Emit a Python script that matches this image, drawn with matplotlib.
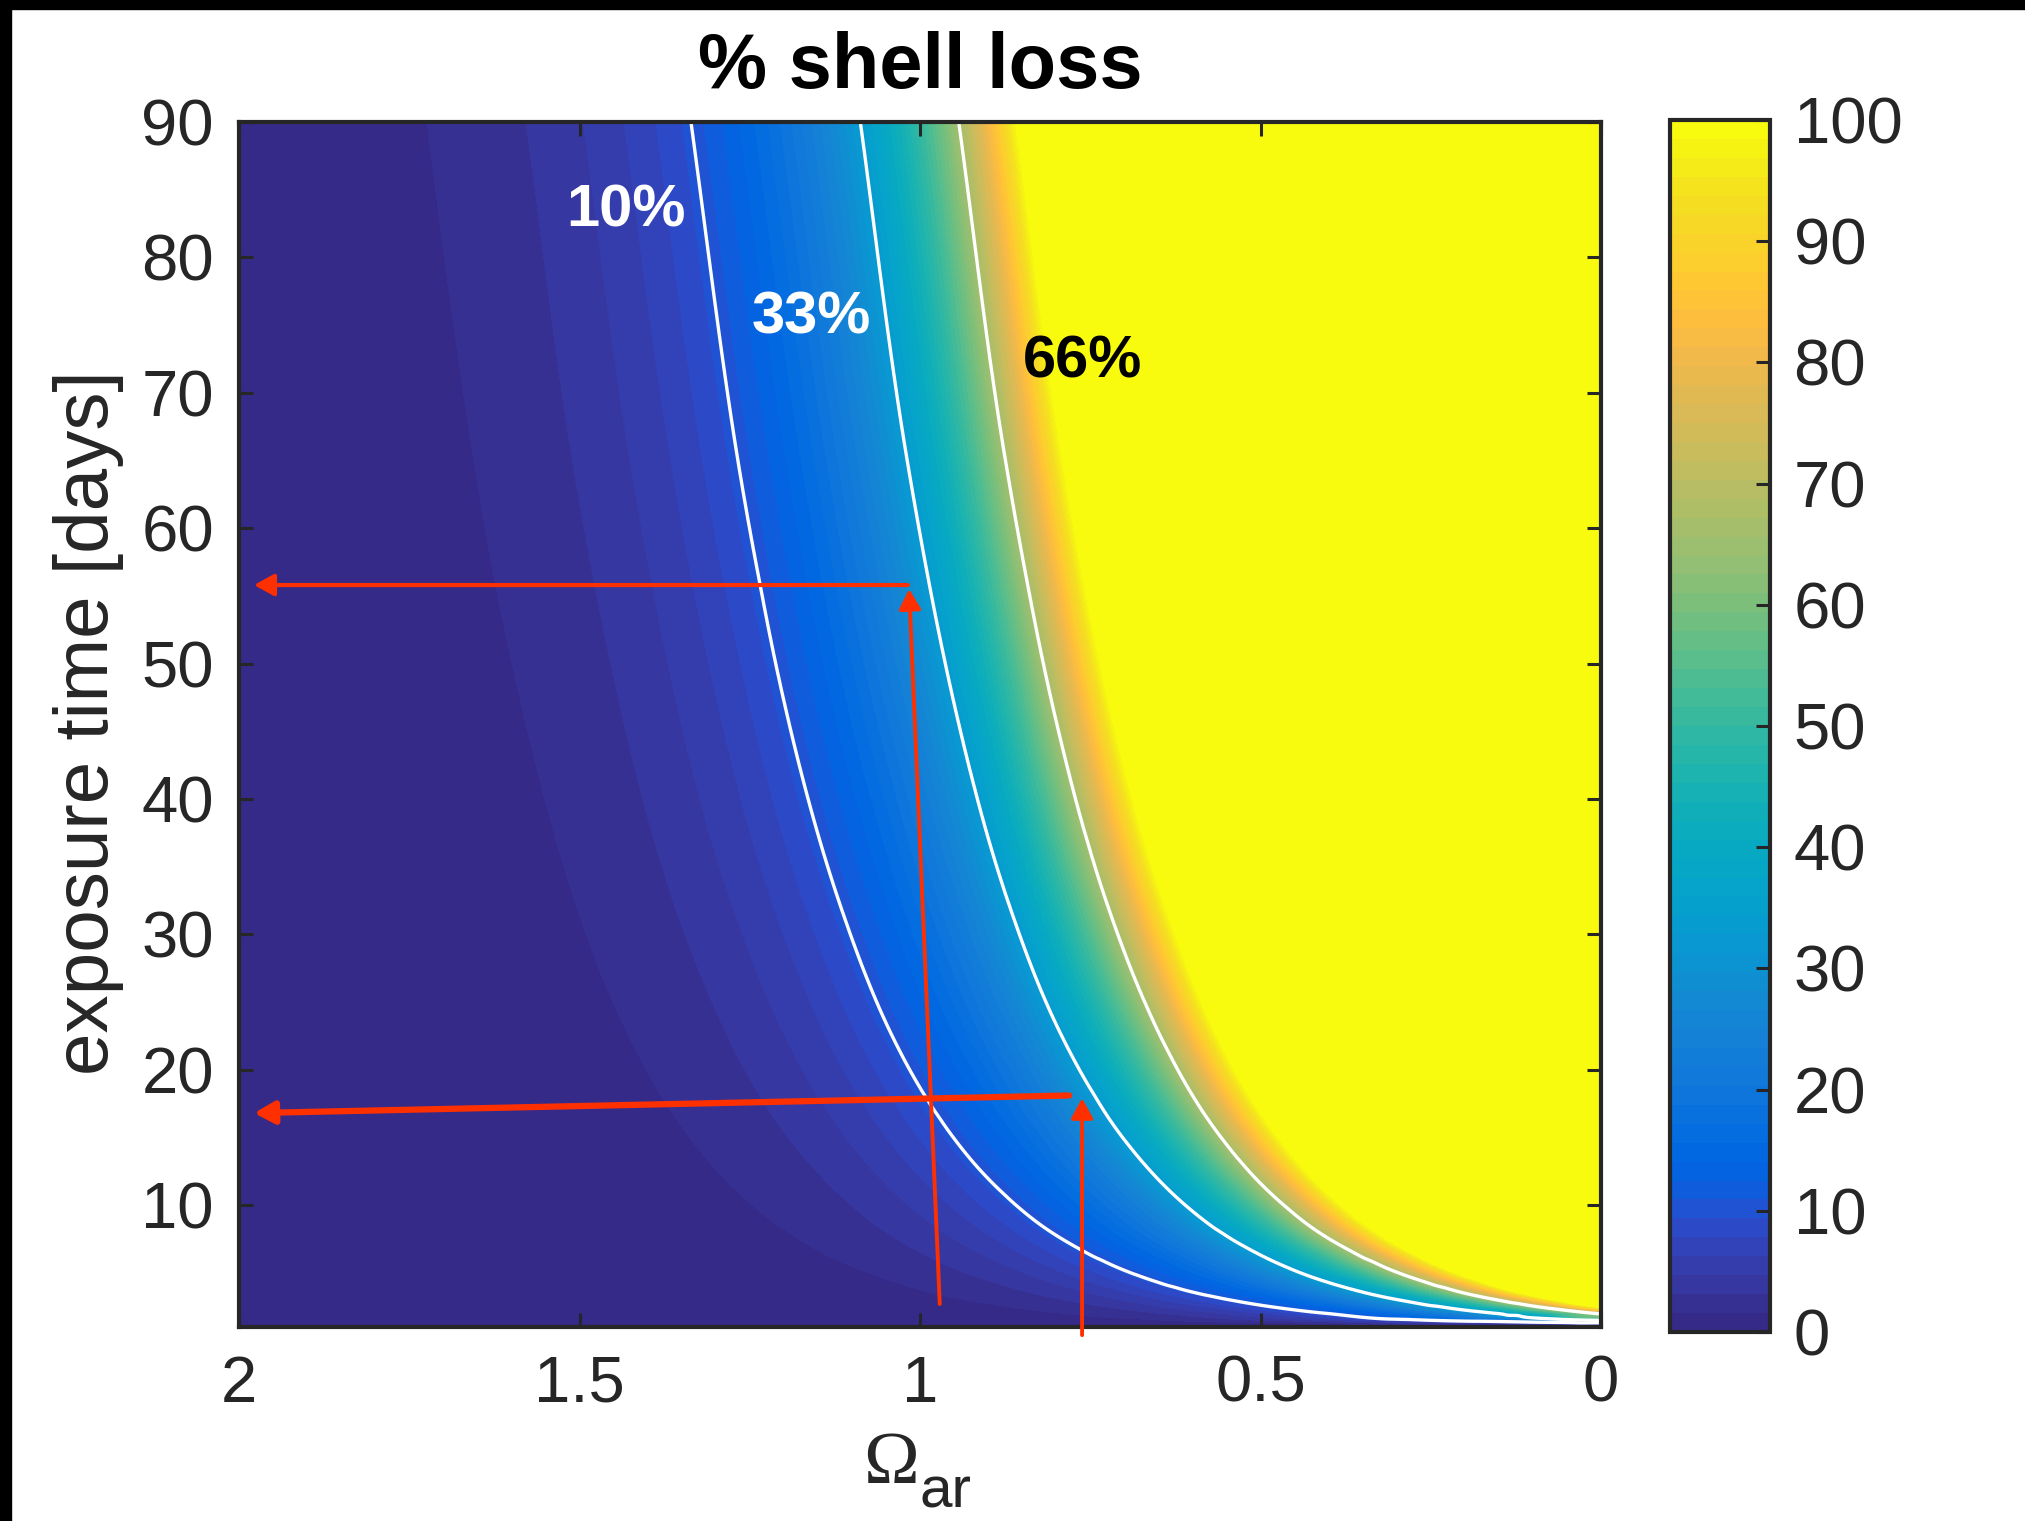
import numpy as np
import matplotlib
matplotlib.use("Agg")
import matplotlib.pyplot as plt
import matplotlib.tri as mtri
from matplotlib.cm import ScalarMappable
from matplotlib.colors import ListedColormap, Normalize
from matplotlib.patches import Rectangle

# --- data --------------------------------------------------------------------
# saturation state Omega_ar (columns) and exposure time in days (rows)
omega = [0.0, 0.1, 0.2, 0.3, 0.4, 0.5, 0.6, 0.7, 0.8, 0.9, 1.0,
         1.1, 1.2, 1.3, 1.4, 1.5, 1.6, 1.7, 1.8, 1.9, 2.0]
days = [1, 1.5, 2, 3, 4.5, 7, 10, 15, 22, 32, 45, 65, 90]

# % shell loss, one row per day value (colour axis stops at 100 -> yellow above)
shell_loss = [
    [0, 0, 0, 0, 0, 0, 0, 0, 0, 0, 0, 0, 0, 0, 0, 0, 0, 0, 0, 0, 0],
    [34.3, 21.2, 13.1, 8.13, 5.03, 3.11, 1.93, 1.19, 0.74, 0.46, 0.28,
     0.17, 0.11, 0.067, 0.041, 0.026, 0.016, 0.0098, 0.0061, 0.0038, 0.0023],
    [68.6, 42.5, 26.3, 16.3, 10.1, 6.22, 3.85, 2.38, 1.47, 0.91, 0.56,
     0.35, 0.22, 0.13, 0.083, 0.051, 0.032, 0.020, 0.012, 0.0075, 0.0046],
    [137, 84.9, 52.5, 32.5, 20.1, 12.4, 7.70, 4.77, 2.95, 1.82, 1.13,
     0.70, 0.43, 0.27, 0.17, 0.10, 0.063, 0.039, 0.024, 0.015, 0.0093],
    [240, 149, 91.9, 56.9, 35.2, 21.8, 13.5, 8.34, 5.16, 3.19, 1.98,
     1.22, 0.76, 0.47, 0.29, 0.18, 0.11, 0.069, 0.042, 0.026, 0.016],
    [412, 255, 158, 97.5, 60.4, 37.3, 23.1, 14.3, 8.84, 5.47, 3.39,
     2.10, 1.30, 0.80, 0.50, 0.31, 0.19, 0.12, 0.073, 0.045, 0.028],
    [617, 382, 236, 146, 90.5, 56.0, 34.7, 21.4, 13.3, 8.21, 5.08,
     3.14, 1.95, 1.20, 0.75, 0.46, 0.29, 0.18, 0.11, 0.068, 0.042],
    [960, 594, 368, 228, 141, 87.1, 53.9, 33.4, 20.6, 12.8, 7.90,
     4.89, 3.03, 1.87, 1.16, 0.72, 0.44, 0.27, 0.17, 0.11, 0.065],
    [1441, 891, 552, 341, 211, 131, 80.9, 50.0, 31.0, 19.2, 11.9,
     7.34, 4.54, 2.81, 1.74, 1.08, 0.67, 0.41, 0.25, 0.16, 0.098],
    [2127, 1316, 814, 504, 312, 193, 119, 73.9, 45.7, 28.3, 17.5,
     10.8, 6.70, 4.15, 2.57, 1.59, 0.98, 0.61, 0.38, 0.23, 0.14],
    [3018, 1868, 1156, 715, 443, 274, 169, 105, 64.9, 40.1, 24.8,
     15.4, 9.51, 5.89, 3.64, 2.25, 1.39, 0.86, 0.53, 0.33, 0.20],
    [4390, 2717, 1681, 1040, 644, 398, 246, 153, 94.3, 58.4, 36.1,
     22.4, 13.8, 8.56, 5.30, 3.28, 2.03, 1.26, 0.78, 0.48, 0.30],
    [6105, 3778, 2338, 1446, 895, 554, 343, 212, 131, 81.2, 50.2,
     31.1, 19.2, 11.9, 7.37, 4.56, 2.82, 1.75, 1.08, 0.67, 0.41],
]

contour_levels = [10, 33, 66]
contour_labels = ["10%", "33%", "66%"]
label_omega = [1.432, 1.160, 0.762]
label_days = [83.4, 75.5, 72.3]
label_colors = ["white", "white", "black"]

x_ticks = [2, 1.5, 1, 0.5, 0]
x_tick_labels = ["2", "1.5", "1", "0.5", "0"]
y_ticks = [10, 20, 30, 40, 50, 60, 70, 80, 90]
cbar_ticks = [0, 10, 20, 30, 40, 50, 60, 70, 80, 90, 100]

# red reading arrows: (tail omega, tail day, head omega, head day)
arrows = [
    (1.018, 55.8, 1.978, 55.8),
    (0.971, 2.7, 1.016, 55.5),
    (0.781, 18.1, 1.978, 16.8),
    (0.762, 0.4, 0.762, 17.9),
]
arrow_widths = [3.0, 2.8, 4.5, 2.8]

# MATLAB parula, 64 steps
PARULA = [
    (0.2081, 0.1663, 0.5292), (0.2116, 0.1898, 0.5777), (0.2123, 0.2138, 0.6270), (0.2081, 0.2386, 0.6771),
    (0.1959, 0.2645, 0.7279), (0.1707, 0.2919, 0.7792), (0.1253, 0.3242, 0.8303), (0.0591, 0.3598, 0.8683),
    (0.0117, 0.3875, 0.8820), (0.0060, 0.4086, 0.8828), (0.0165, 0.4266, 0.8786), (0.0329, 0.4430, 0.8720),
    (0.0498, 0.4586, 0.8641), (0.0629, 0.4737, 0.8554), (0.0723, 0.4887, 0.8467), (0.0779, 0.5040, 0.8384),
    (0.0793, 0.5200, 0.8312), (0.0749, 0.5375, 0.8263), (0.0641, 0.5570, 0.8240), (0.0488, 0.5772, 0.8228),
    (0.0343, 0.5966, 0.8199), (0.0265, 0.6137, 0.8135), (0.0239, 0.6287, 0.8038), (0.0231, 0.6418, 0.7913),
    (0.0228, 0.6535, 0.7768), (0.0267, 0.6642, 0.7607), (0.0384, 0.6743, 0.7436), (0.0590, 0.6838, 0.7254),
    (0.0843, 0.6928, 0.7062), (0.1133, 0.7015, 0.6859), (0.1453, 0.7098, 0.6646), (0.1801, 0.7177, 0.6424),
    (0.2178, 0.7250, 0.6193), (0.2586, 0.7317, 0.5954), (0.3022, 0.7376, 0.5712), (0.3482, 0.7424, 0.5473),
    (0.3953, 0.7459, 0.5244), (0.4420, 0.7481, 0.5033), (0.4871, 0.7491, 0.4840), (0.5300, 0.7491, 0.4661),
    (0.5709, 0.7485, 0.4494), (0.6099, 0.7473, 0.4337), (0.6473, 0.7456, 0.4188), (0.6834, 0.7435, 0.4044),
    (0.7184, 0.7411, 0.3905), (0.7525, 0.7384, 0.3768), (0.7858, 0.7356, 0.3633), (0.8185, 0.7327, 0.3498),
    (0.8507, 0.7299, 0.3360), (0.8824, 0.7274, 0.3217), (0.9139, 0.7258, 0.3063), (0.9450, 0.7261, 0.2886),
    (0.9739, 0.7314, 0.2666), (0.9938, 0.7455, 0.2403), (0.9990, 0.7653, 0.2164), (0.9955, 0.7861, 0.1967),
    (0.9880, 0.8066, 0.1794), (0.9789, 0.8271, 0.1633), (0.9697, 0.8481, 0.1475), (0.9626, 0.8705, 0.1309),
    (0.9589, 0.8949, 0.1132), (0.9598, 0.9218, 0.0948), (0.9661, 0.9514, 0.0755), (0.9763, 0.9831, 0.0538),
]

plt.rcParams["font.family"] = ["Liberation Sans", "DejaVu Sans"]
INK = "#262626"
RED = "#ff3000"

parula = ListedColormap(PARULA, name="parula")
parula.set_over(PARULA[-1])
parula.set_under(PARULA[0])

W, H = 2025, 1521
fig = plt.figure(figsize=(W / 100, H / 100), dpi=100)
ax = fig.add_axes([239 / W, 1 - 1327 / H, 1362 / W, 1205 / H])
cax = fig.add_axes([1670 / W, 1 - 1332 / H, 100 / W, 1212 / H])

# smooth the table with matplotlib's cubic triangle refiner; work on log(1 + loss)
# (the table spans several decades) and scale days so the cells are not needles
om, dd = np.meshgrid(omega, days)
zlog = np.log1p(np.asarray(shell_loss, dtype=float)).ravel()
tri_s = mtri.Triangulation(om.ravel(), dd.ravel() / 50)
interp = mtri.CubicTriInterpolator(tri_s, zlog, kind="geom")
fine_s, zlog_fine = mtri.UniformTriRefiner(tri_s).refine_field(zlog, triinterpolator=interp, subdiv=4)
fine = mtri.Triangulation(fine_s.x, fine_s.y * 50, fine_s.triangles)
z_fine = np.expm1(zlog_fine)

ax.tricontourf(fine, z_fine, levels=np.linspace(0, 100, 65), cmap=parula,
               extend="both", antialiased=False)
ax.tricontour(fine, z_fine, levels=contour_levels, colors="white", linewidths=2.4)

for txt, x, y, c in zip(contour_labels, label_omega, label_days, label_colors):
    ax.text(x, y, txt, color=c, fontsize=43, fontweight="bold",
            ha="center", va="center")

for (x0, y0, x1, y1), lw in zip(arrows, arrow_widths):
    ax.annotate("", xy=(x1, y1), xytext=(x0, y0), annotation_clip=False,
                arrowprops=dict(arrowstyle="-|>,head_length=0.4,head_width=0.22",
                                color=RED, lw=lw, mutation_scale=30,
                                shrinkA=0, shrinkB=0))

ax.set_xlim(2, 0)
ax.set_ylim(1, 90)
ax.set_xticks(x_ticks)
ax.set_xticklabels(x_tick_labels)
ax.set_yticks(y_ticks)
ax.tick_params(direction="in", length=10, width=2.2, top=True, right=True,
               labelsize=47, colors=INK)
ax.tick_params(axis="x", pad=20)
ax.tick_params(axis="y", pad=18)
for s in ax.spines.values():
    s.set_linewidth(3)
    s.set_color(INK)

cb = fig.colorbar(ScalarMappable(norm=Normalize(0, 100), cmap=parula),
                  cax=cax, ticks=cbar_ticks)
cb.outline.set_linewidth(3)
cb.outline.set_edgecolor(INK)
cax.tick_params(direction="in", length=10, width=2.2, labelsize=47,
                pad=17, colors=INK)

fig.text(920 / W, 1 - 88 / H, "% shell loss", fontsize=56, fontweight="bold",
         ha="center", va="baseline", color="black")
fig.text(108 / W, 1 - 723 / H, "exposure time [days]", fontsize=55,
         rotation=90, rotation_mode="anchor", ha="center", va="baseline", color=INK)
fig.text(891 / W, 1 - 1483 / H, "Ω", fontsize=54, color=INK,
         family=["Liberation Serif", "DejaVu Serif"], ha="center", va="baseline")
fig.text(945 / W, 1 - 1507 / H, "ar", fontsize=42, color=INK,
         ha="center", va="baseline")

# black strips along the top and left edge of the screenshot
fig.add_artist(Rectangle((0, 1 - 9 / H), 1, 9 / H, transform=fig.transFigure,
                         color="black", zorder=10))
fig.add_artist(Rectangle((0, 0), 11 / W, 1, transform=fig.transFigure,
                         color="black", zorder=10))

fig.savefig("out.png", dpi=100)
